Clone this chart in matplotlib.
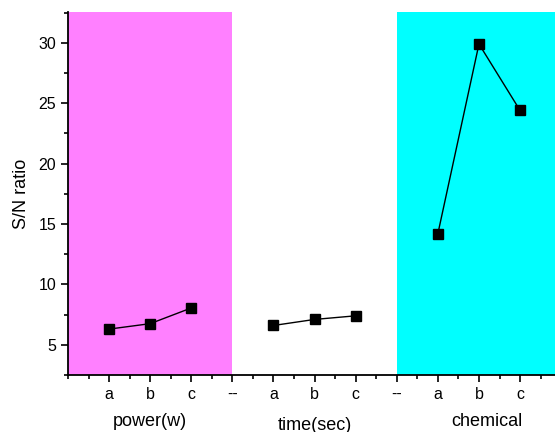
import numpy as np
import matplotlib.pyplot as plt

plt.rcParams['font.family'] = ['Liberation Sans', 'DejaVu Sans']

# x positions: a, b, c of each factor, separated by a "--" slot
tick_labels = ['a', 'b', 'c', '--', 'a', 'b', 'c', '--', 'a', 'b', 'c']
power_x = [1, 2, 3]
time_x = [5, 6, 7]
chem_x = [9, 10, 11]

power_sn = [6.3, 6.75, 8.05]
time_sn = [6.6, 7.1, 7.4]
chem_sn = [14.2, 29.9, 24.4]

fig = plt.figure(figsize=(5.55, 4.32), dpi=100)
ax = fig.add_axes([68 / 555, 1 - 375 / 432, 487 / 555, 363 / 432])

ax.axvspan(0, 4, color='#ff80ff', lw=0, zorder=0)
ax.axvspan(8, 12, color='#00ffff', lw=0, zorder=0)

for xs, ys in [(power_x, power_sn), (time_x, time_sn), (chem_x, chem_sn)]:
    ax.plot(xs, ys, color='black', lw=1, marker='s', ms=7, zorder=3)

ax.set_xlim(0, 11.85)
ax.set_ylim(2.55, 32.55)

ax.set_xticks(np.arange(1, 12))
ax.set_xticklabels(tick_labels)
ax.set_xticks(np.arange(0, 12, 0.5), minor=True)
ax.set_yticks([5, 10, 15, 20, 25, 30])
ax.set_yticks(np.arange(2.5, 32.6, 2.5), minor=True)
ax.tick_params(axis='both', which='major', direction='out', length=5, width=1.2, labelsize=11.5)
ax.tick_params(axis='both', which='minor', direction='out', length=3, width=1.2)

for side in ['top', 'right']:
    ax.spines[side].set_visible(False)
for side in ['left', 'bottom']:
    ax.spines[side].set_linewidth(1.3)

ax.set_ylabel('S/N ratio', fontsize=13, labelpad=6)

fig.text(150 / 555, 1 - 422 / 432, 'power(w)', ha='center', va='center', fontsize=13)
fig.text(315 / 555, 1 - 425 / 432, 'time(sec)', ha='center', va='center', fontsize=13)
fig.text(487 / 555, 1 - 422 / 432, 'chemical', ha='center', va='center', fontsize=13)

fig.savefig('out.png', dpi=100)
